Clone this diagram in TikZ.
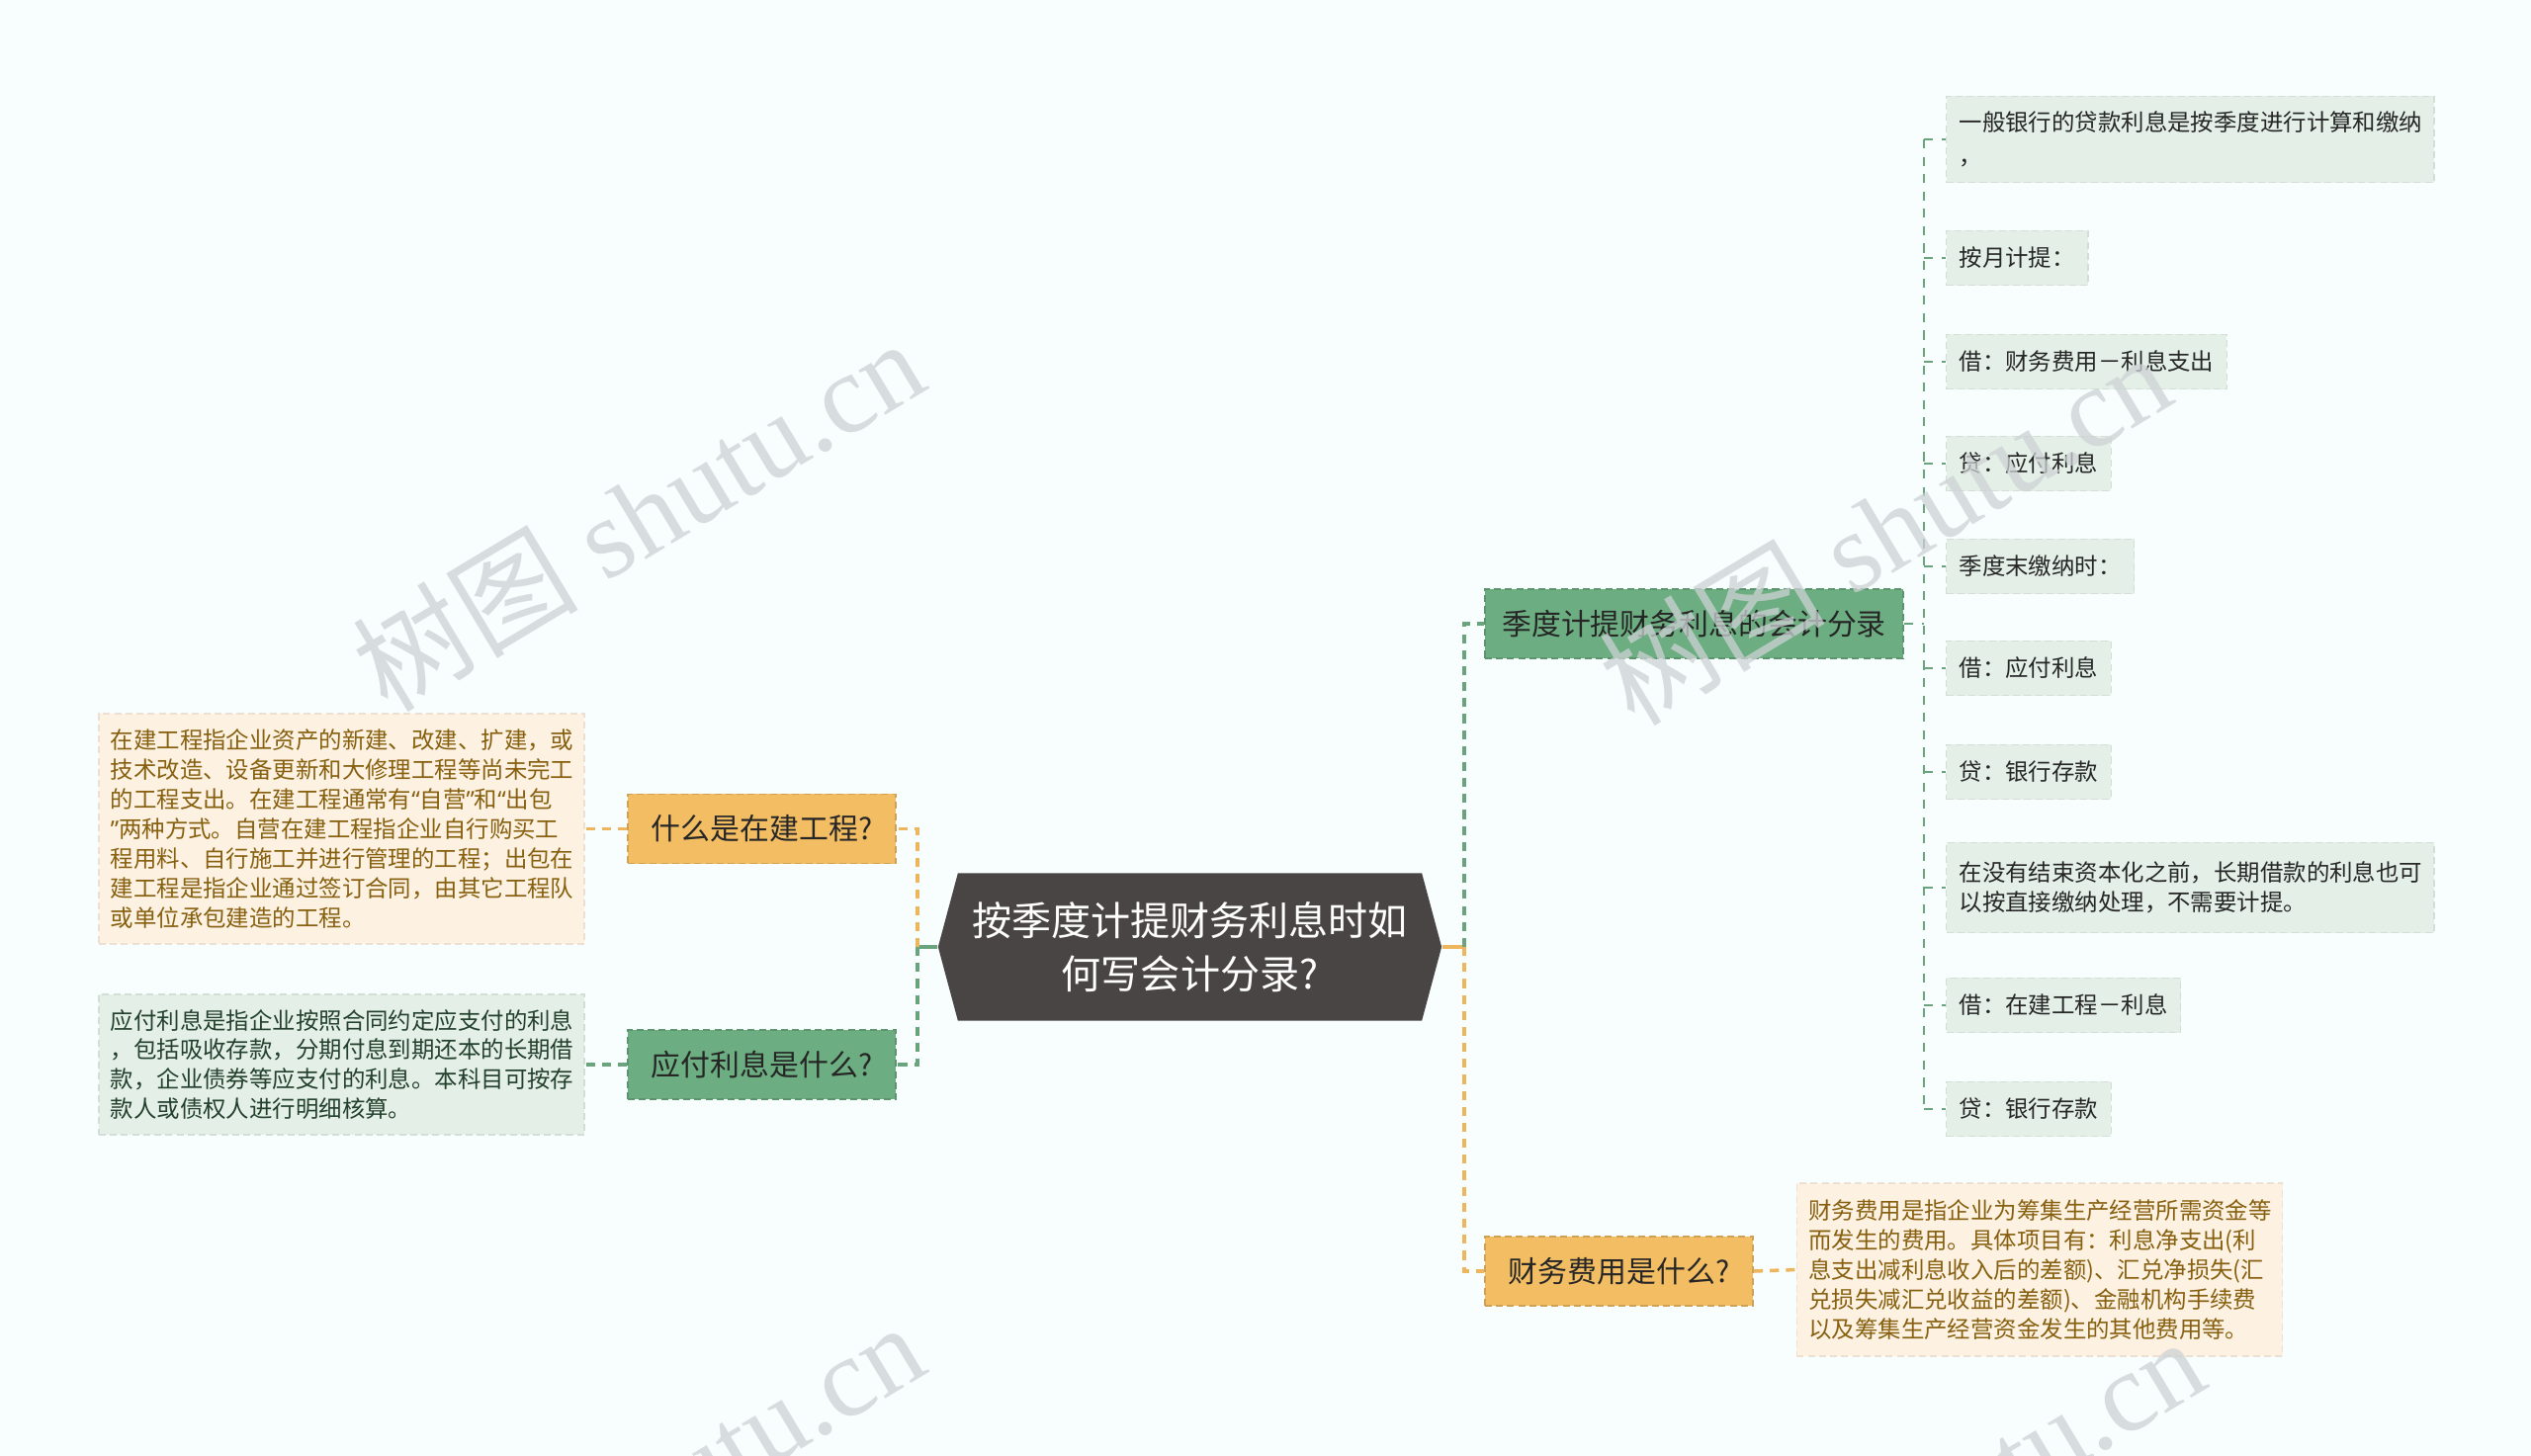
\documentclass[tikz,border=0pt]{standalone}
\usepackage{fontspec}
\setmainfont{Noto Sans CJK SC}
\newfontfamily\wmfont{Liberation Serif}
\newfontfamily\latinfont{Noto Sans}
\usepackage{tikz}
\usetikzlibrary{shapes.symbols,positioning}

\definecolor{bgcol}{HTML}{F8FDFD}
\definecolor{orgfill}{HTML}{F2BD63}
\definecolor{orgline}{HTML}{EDB65C}
\definecolor{grnfill}{HTML}{6CAE81}
\definecolor{grnline}{HTML}{69A47C}
\definecolor{rootfill}{HTML}{4A4545}
\definecolor{orgleaf}{HTML}{FDF1E2}
\definecolor{grnleaf}{HTML}{E3EFE7}
\definecolor{orgtext}{HTML}{87600F}
\definecolor{grntext}{HTML}{23402C}
\definecolor{wmgray}{HTML}{CDD2D4}

\newcommand{\openq}{{\latinfont “}}
\newcommand{\closeq}{{\latinfont ”}}

\begin{document}
\begin{tikzpicture}[x=0.01cm,y=-0.01cm]

\tikzset{rootnode/.style={signal, signal to=west and east, signal pointer angle=150,
  fill=rootfill, text=white, minimum width=5.09cm, minimum height=1.49cm, inner sep=0pt,
  align=center, font=\fontsize{11.4}{15.4}\selectfont},
topic/.style={draw=#1!85!black, dash pattern=on 2pt off 1.2pt, line width=0.5pt, fill=#1,
  text=black!85, minimum width=2.71cm, minimum height=0.70cm, inner sep=0pt,
  font=\fontsize{8.5}{10}\selectfont},
leaf/.style={draw=#1!93!black, dash pattern=on 2pt off 1.2pt, line width=0.4pt, fill=#1,
  text width=4.67cm, inner xsep=0.12cm, inner ysep=0pt, align=left,
  font=\fontsize{6.66}{8.5}\selectfont},
rleaf/.style={leaf=grnleaf, text width=, text=black!85, inner xsep=0.13cm,
  minimum height=0.55cm, anchor=west},
conn/.style={#1, line width=1pt, dash pattern=on 2.6pt off 2pt},
stub/.style={#1, line width=1pt},
childconn/.style={grnline, line width=0.6pt, dash pattern=on 2.6pt off 2.4pt},
wmark/.style={text=wmgray, opacity=0.75, rotate=31, inner sep=0pt,
  font=\fontsize{32.5}{33}\selectfont\wmfont}}

\clip (0,0) rectangle (2560,1473);
\fill[bgcol] (0,0) rectangle (2560,1473);

% root and topics
\node[rootnode] (root) at (1203.5,958) {按季度计提财务利息时如\\何写会计分录?};

\node[topic=orgfill] (build) at (770.5,838.5) {什么是在建工程?};
\node[topic=grnfill] (payable) at (770.5,1077) {应付利息是什么?};
\node[topic=grnfill, minimum width=4.23cm] (quarter) at (1713.5,631) {季度计提财务利息的会计分录};
\node[topic=orgfill] (expense) at (1637.5,1286) {财务费用是什么?};

% left details
\node[leaf=orgleaf, text=orgtext, minimum height=2.33cm] (builddef) at (345.5,838.5)
  {在建工程指企业资产的新建、改建、扩建，或\\技术改造、设备更新和大修理工程等尚未完工\\的工程支出。在建工程通常有\openq 自营\closeq 和\openq 出包\\\closeq 两种方式。自营在建工程指企业自行购买工\\程用料、自行施工并进行管理的工程；出包在\\建工程是指企业通过签订合同，由其它工程队\\或单位承包建造的工程。};
\node[leaf=grnleaf, text=grntext, minimum height=1.42cm] (payabledef) at (345.5,1077)
  {应付利息是指企业按照合同约定应支付的利息\\，包括吸收存款，分期付息到期还本的长期借\\款，企业债券等应支付的利息。本科目可按存\\款人或债权人进行明细核算。};
\node[leaf=orgleaf, text=orgtext, minimum height=1.75cm] (expensedef) at (2063,1284.5)
  {财务费用是指企业为筹集生产经营所需资金等\\而发生的费用。具体项目有：利息净支出(利\\息支出减利息收入后的差额)、汇兑净损失(汇\\兑损失减汇兑收益的差额)、金融机构手续费\\以及筹集生产经营资金发生的其他费用等。};

% entries under the quarter topic
\node[rleaf, text width=4.67cm, minimum height=0.87cm, font=\fontsize{6.66}{9.5}\selectfont] (r1) at (1968,141)
  {一般银行的贷款利息是按季度进行计算和缴纳\\，};
\node[rleaf, text width=4.67cm, minimum height=0.91cm] (r8) at (1968,898)
  {在没有结束资本化之前，长期借款的利息也可\\以按直接缴纳处理，不需要计提。};
\foreach \n/\y/\t in {r2/261/按月计提：, r3/366/借：财务费用－利息支出, r4/469/贷：应付利息,
  r5/573/季度末缴纳时：, r6/676/借：应付利息, r7/781/贷：银行存款,
  r9/1017/借：在建工程－利息, r10/1122/贷：银行存款}
  \node[rleaf] (\n) at (1968,\y) {\t};

% connectors
\coordinate (lj) at (928,958);
\coordinate (rj) at (1481,958);
\coordinate (qj) at (1946,631);

\draw[stub=grnline] (root.west) -- (lj);
\draw[conn=orgline] (lj) |- (build.east);
\draw[conn=grnline] (lj) |- (payable.east);
\draw[conn=orgline] (build.west) -- (builddef.east);
\draw[conn=grnline] (payable.west) -- (payabledef.east);

\draw[stub=orgline] (root.east) -- (rj);
\draw[conn=grnline] (rj) |- (quarter.west);
\draw[conn=orgline] (rj) |- (expense.west);
\draw[conn=orgline] (expense.east) -- (expensedef.west);

\draw[childconn] (quarter.east) -- (qj);
\draw[childconn] (qj |- r1.west) -- (qj |- r10.west);
\foreach \n in {r1,r2,r3,r4,r5,r6,r7,r8,r9,r10}
  \draw[childconn] (qj |- \n.west) -- (\n.west);

% watermarks
\node[wmark] (wm1) at (645,520) {{\rmfamily 树图} shutu.cn};
\node[wmark] (wm2) at (1906,534) {{\rmfamily 树图} shutu.cn};
\node[wmark] (wm3) at (645,1515) {{\rmfamily 树图} shutu.cn};
\node[wmark] (wm4) at (1940,1530) {{\rmfamily 树图} shutu.cn};

\end{tikzpicture}
\end{document}
